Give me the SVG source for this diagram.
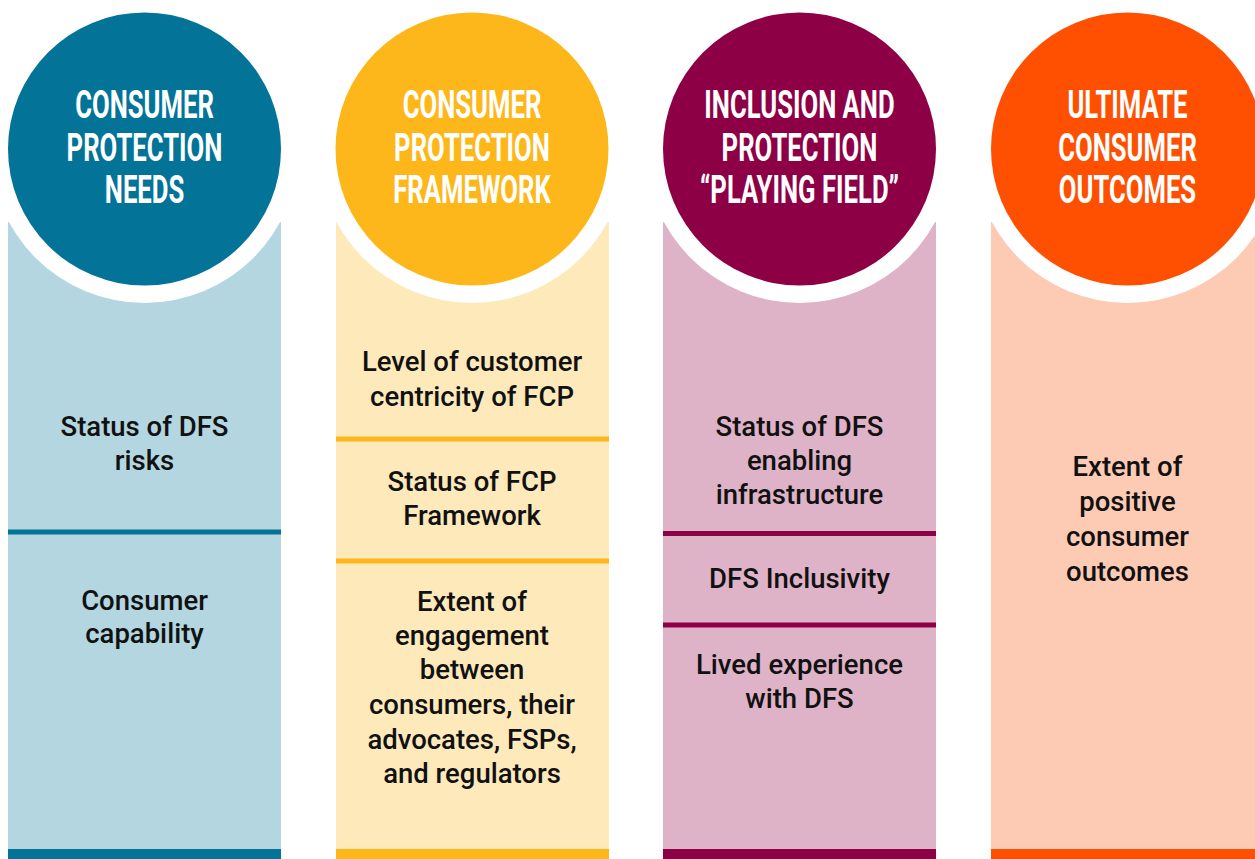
<svg xmlns="http://www.w3.org/2000/svg" width="1255" height="859" viewBox="0 0 1255 859">
<style>
.title{font-family:Roboto,"Liberation Sans",sans-serif;font-weight:700;font-size:39.5px;fill:#fff;text-anchor:middle}
.body{font-family:Roboto,"Liberation Sans",sans-serif;font-weight:500;font-size:27.5px;fill:#111;text-anchor:middle}
.ring{fill:#fff}
</style>
<rect width="1255" height="859" fill="#fff"/>
<g id="col1">
<rect x="8" y="222" width="273" height="637" fill="#B3D6E0"/>
<rect x="8" y="849" width="273" height="10" fill="#037398"/>
<rect x="8" y="529.5" width="273" height="5" fill="#037398"/>
<circle class="ring" cx="144.5" cy="149" r="154"/>
<circle cx="144.5" cy="149" r="136.5" fill="#037398"/>
<g transform="translate(144.5,0) scale(0.65,1)">
<text class="title" x="0" y="118">CONSUMER</text>
<text class="title" x="0" y="161">PROTECTION</text>
<text class="title" x="0" y="203">NEEDS</text>
</g>
<text class="body" x="144.5" y="436">Status of DFS</text>
<text class="body" x="144.5" y="470">risks</text>
<text class="body" x="144.5" y="610">Consumer</text>
<text class="body" x="144.5" y="643">capability</text>
</g>
<g id="col2">
<rect x="336" y="222" width="273" height="637" fill="#FEE9BB"/>
<rect x="336" y="849" width="273" height="10" fill="#FDB71A"/>
<rect x="336" y="436.5" width="273" height="5" fill="#FDB71A"/>
<rect x="336" y="558.5" width="273" height="5" fill="#FDB71A"/>
<circle class="ring" cx="472" cy="149" r="154"/>
<circle cx="472" cy="149" r="136.5" fill="#FDB71A"/>
<g transform="translate(472,0) scale(0.65,1)">
<text class="title" x="0" y="118">CONSUMER</text>
<text class="title" x="0" y="161">PROTECTION</text>
<text class="title" x="0" y="203">FRAMEWORK</text>
</g>
<text class="body" x="472" y="371">Level of customer</text>
<text class="body" x="472" y="406">centricity of FCP</text>
<text class="body" x="472" y="491">Status of FCP</text>
<text class="body" x="472" y="525">Framework</text>
<text class="body" x="472" y="611">Extent of</text>
<text class="body" x="472" y="645">engagement</text>
<text class="body" x="472" y="679">between</text>
<text class="body" x="472" y="714">consumers, their</text>
<text class="body" x="472" y="749">advocates, FSPs,</text>
<text class="body" x="472" y="783">and regulators</text>
</g>
<g id="col3">
<rect x="663" y="222" width="273" height="637" fill="#DFB3C7"/>
<rect x="663" y="849" width="273" height="10" fill="#8E0045"/>
<rect x="663" y="531" width="273" height="5" fill="#8E0045"/>
<rect x="663" y="622.5" width="273" height="5" fill="#8E0045"/>
<circle class="ring" cx="799.5" cy="149" r="154"/>
<circle cx="799.5" cy="149" r="136.5" fill="#8E0045"/>
<g transform="translate(799.5,0) scale(0.65,1)">
<text class="title" x="0" y="118">INCLUSION AND</text>
<text class="title" x="0" y="161">PROTECTION</text>
<text class="title" x="0" y="203">“PLAYING FIELD”</text>
</g>
<text class="body" x="799.5" y="436">Status of DFS</text>
<text class="body" x="799.5" y="470">enabling</text>
<text class="body" x="799.5" y="504">infrastructure</text>
<text class="body" x="799.5" y="588">DFS Inclusivity</text>
<text class="body" x="799.5" y="674">Lived experience</text>
<text class="body" x="799.5" y="708">with DFS</text>
</g>
<g id="col4">
<rect x="991" y="222" width="273" height="637" fill="#FDCAB3"/>
<rect x="991" y="849" width="273" height="10" fill="#FE5000"/>
<circle class="ring" cx="1127.5" cy="149" r="154"/>
<circle cx="1127.5" cy="149" r="136.5" fill="#FE5000"/>
<g transform="translate(1127.5,0) scale(0.65,1)">
<text class="title" x="0" y="118">ULTIMATE</text>
<text class="title" x="0" y="161">CONSUMER</text>
<text class="title" x="0" y="203">OUTCOMES</text>
</g>
<text class="body" x="1127.5" y="476">Extent of</text>
<text class="body" x="1127.5" y="511">positive</text>
<text class="body" x="1127.5" y="546">consumer</text>
<text class="body" x="1127.5" y="581">outcomes</text>
</g>
<g id="connectors"></g>
</svg>
